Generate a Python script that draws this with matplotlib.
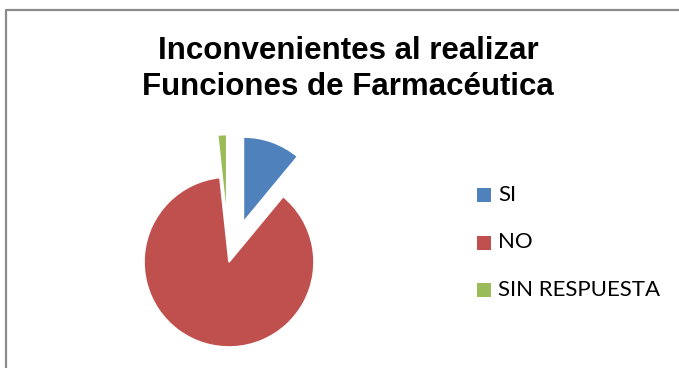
import matplotlib.pyplot as plt
from matplotlib.patches import Rectangle

labels = ['SI', 'NO', 'SIN RESPUESTA']
values = [11, 87.3, 1.7]
colors = ['#4F81BD', '#C0504D', '#9BBB59']
pull = [0.5, 0, 0.5]  # fraction of the radius

W, H = 679, 368
R = 85
fig = plt.figure(figsize=(W / 100, H / 100), dpi=100)
ax = fig.add_axes([0, 0, 1, 1])
ax.set_aspect('equal')
ax.axis('off')

# chart frame (only left and top edges visible)
ax.plot([6, 6, W], [0, H - 10, H - 10], color='#8c8c8c', lw=1.6, solid_capstyle='butt')

ax.pie(values, colors=colors, explode=[p * R for p in pull], startangle=90,
       counterclock=False, center=(229, H - 262), radius=R,
       wedgeprops=dict(edgecolor='white', linewidth=1.2))
ax.set_xlim(0, W)
ax.set_ylim(0, H)

ax.text(348, H - 69, 'Inconvenientes al realizar\nFunciones de Farmacéutica',
        ha='center', va='center', fontsize=22.5, fontweight='bold',
        family='Liberation Sans', linespacing=1.22)

# legend
for i, (lab, col) in enumerate(zip(labels, colors)):
    y = H - (195 + 47.5 * i)
    ax.add_patch(Rectangle((477, y - 7), 14, 14, color=col, lw=0))
    ax.text(498, y, lab, ha='left', va='center', fontsize=16, family='Lato')

fig.savefig('out.png', dpi=100)
